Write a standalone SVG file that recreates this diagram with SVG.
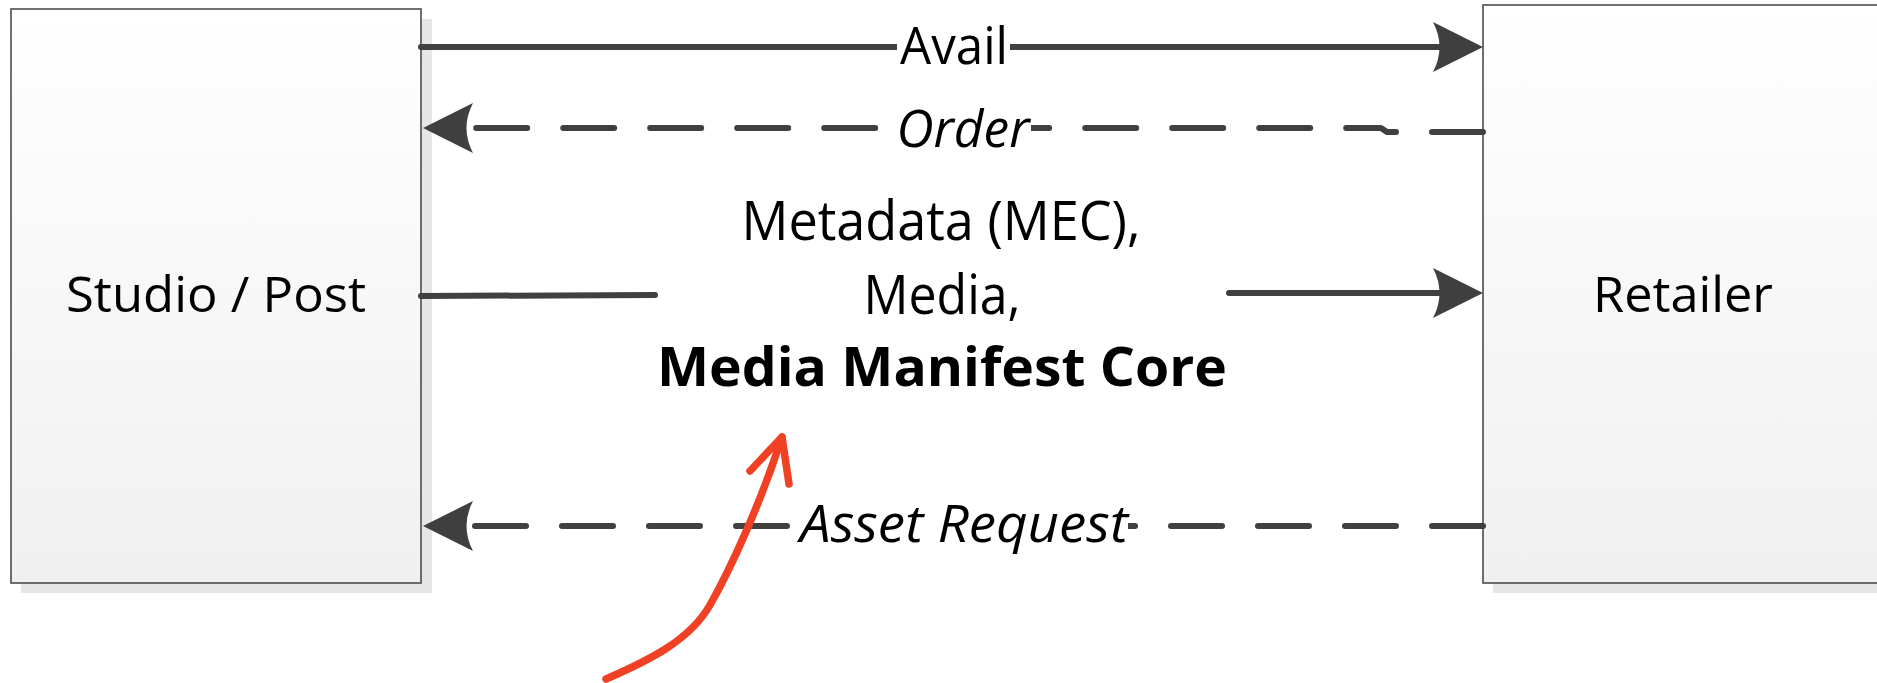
<svg xmlns="http://www.w3.org/2000/svg" width="1877" height="683" viewBox="0 0 1877 683">
<style>
.box{stroke:#4d4d4d;stroke-width:1.6;fill:url(#boxfill)}
.shadow{fill:#e6e6e6}
.lbl{font-family:"Open Sans","Noto Sans","DejaVu Sans",sans-serif;fill:#000}
.node{font-size:49px}
.edge{font-size:51px}
.mid{font-size:54px}
.it{font-style:italic}
.bd{font-weight:bold}
.conn{stroke:#404040;stroke-width:6;fill:none;stroke-linecap:round;stroke-linejoin:round}
.dash{stroke-dasharray:51 36}
.bg{fill:#ffffff}
.red{stroke:#f04125;stroke-width:7.5;fill:none;stroke-linecap:round;stroke-linejoin:round}
</style>
<defs>
<linearGradient id="boxfill" x1="0" y1="0" x2="0" y2="1">
<stop offset="0" stop-color="#ffffff"/>
<stop offset="1" stop-color="#f0f0f0"/>
</linearGradient>
<marker id="arr" markerUnits="userSpaceOnUse" viewBox="0 -26 52 52" refX="6" refY="0" markerWidth="52" markerHeight="52" orient="auto">
<path d="M50,0 L0,-25 Q13,0 0,25 Z" fill="#404040"/>
</marker>
</defs>
<rect width="1877" height="683" fill="#ffffff"/>
<g id="node-studio">
<rect class="shadow" x="21" y="19" width="411" height="574"/>
<rect class="box" x="11" y="9" width="410" height="574"/>
<text class="lbl node" x="216" y="312" text-anchor="middle" textLength="300" lengthAdjust="spacingAndGlyphs">Studio / Post</text>
</g>
<g id="node-retailer">
<rect class="shadow" x="1493" y="15" width="400" height="578"/>
<rect class="box" x="1483" y="5" width="400" height="578"/>
<text class="lbl node" x="1683" y="312" text-anchor="middle" textLength="180" lengthAdjust="spacingAndGlyphs">Retailer</text>
</g>
<g id="connectors">
<path id="edge-avail" class="conn" d="M421,47 L1439,47" marker-end="url(#arr)"/>
<path id="edge-order" class="conn dash" d="M1483,132 L1387,132 L1381,128 L467,128" marker-end="url(#arr)"/>
<path id="edge-mec-a" class="conn" d="M421,296 L655,295" stroke-linecap="butt"/>
<path id="edge-mec-b" class="conn" d="M1229,293 L1439,293" stroke-linecap="butt" marker-end="url(#arr)"/>
<path id="edge-asset" class="conn dash" d="M1483,526 L467,526" marker-end="url(#arr)"/>
</g>
<g id="edge-labels">
<rect class="bg" x="897" y="22" width="113" height="50"/>
<text class="lbl edge" x="954" y="64" text-anchor="middle" textLength="108" lengthAdjust="spacingAndGlyphs">Avail</text>
<rect class="bg" x="890" y="104" width="141" height="52"/>
<text class="lbl edge it" x="963" y="147" text-anchor="middle" textLength="133" lengthAdjust="spacingAndGlyphs">Order</text>
<rect class="bg" x="795" y="500" width="333" height="54"/>
<text class="lbl edge it" x="964" y="542" text-anchor="middle" textLength="328" lengthAdjust="spacingAndGlyphs">Asset Request</text>
</g>
<g id="mec-label">
<text class="lbl mid" x="941" y="240" text-anchor="middle" textLength="399" lengthAdjust="spacingAndGlyphs">Metadata (MEC),</text>
<text class="lbl mid" x="942" y="314" text-anchor="middle" textLength="157" lengthAdjust="spacingAndGlyphs">Media,</text>
<text class="lbl mid bd" x="942" y="386" text-anchor="middle" textLength="570" lengthAdjust="spacingAndGlyphs">Media Manifest Core</text>
</g>
<g id="annotation-arrow">
<path class="red" d="M606,679 C650,660 690,640 710,605 C730,570 760,505 782,437"/>
<path class="red" d="M750,471 L782,437 L789,484"/>
</g>
</svg>
